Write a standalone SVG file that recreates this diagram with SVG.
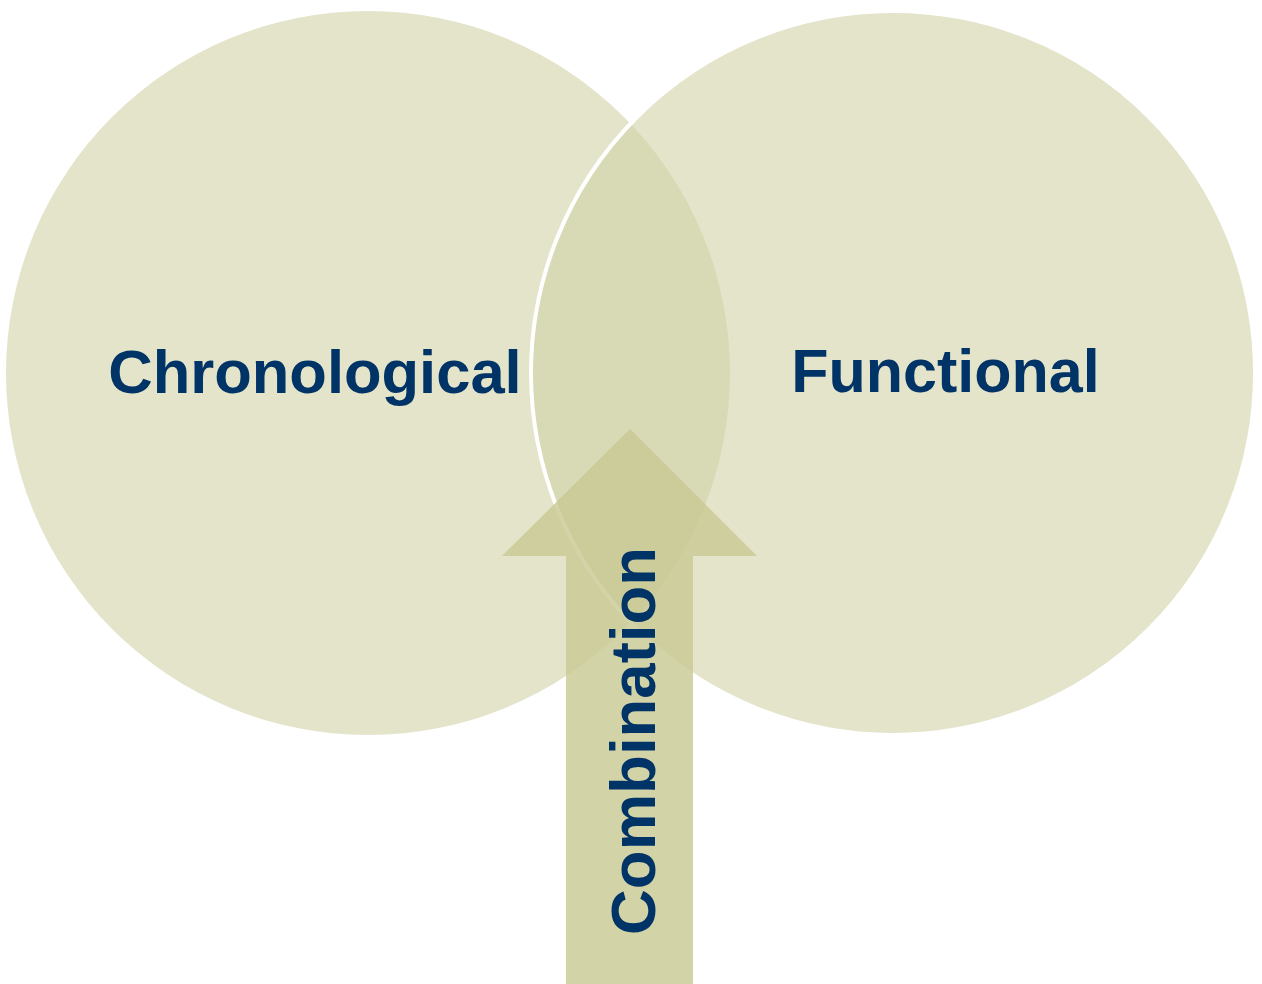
<svg xmlns="http://www.w3.org/2000/svg" width="1262" height="984" viewBox="0 0 1262 984">
<style>
.circle{fill:#D0D2A7;fill-opacity:0.6}
.label{font-family:"Liberation Sans",Arial,sans-serif;font-weight:bold;fill:#003366;text-anchor:middle}
</style>
<rect width="1262" height="984" fill="#FFFFFF"/>
<g id="chronological">
<circle class="circle" cx="368" cy="373" r="362"/>
<text class="label" x="315" y="393" font-size="61.5">Chronological</text>
</g>
<g id="functional">
<circle class="circle" cx="893" cy="373" r="362" stroke="#FFFFFF" stroke-width="4"/>
<text class="label" x="945.5" y="392" font-size="61">Functional</text>
</g>
<g id="connectors">
<g id="combination">
<path d="M630 429 L757 556 L693 556 L693 984 L566 984 L566 556 L502 556 Z" fill="#C8C892" fill-opacity="0.8"/>
<text class="label" transform="translate(655,741) rotate(-90)" x="0" y="0" font-size="63.5">Combination</text>
</g>
</g>
</svg>
